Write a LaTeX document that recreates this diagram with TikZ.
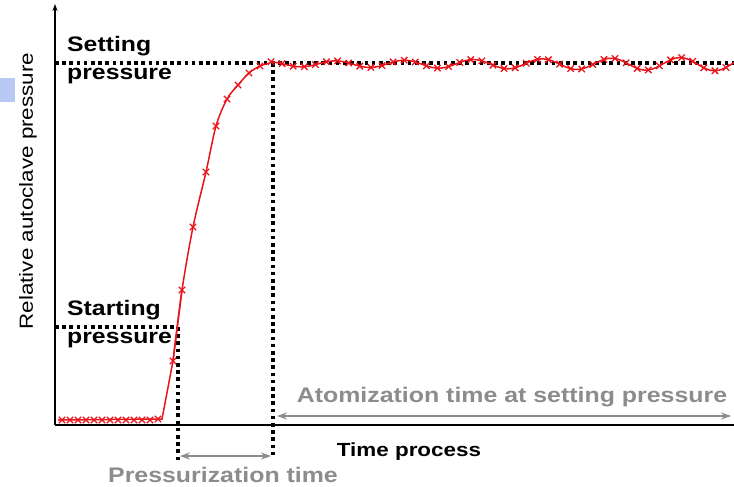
\documentclass[tikz,border=0pt]{standalone}
\usepackage{fontspec}
\setmainfont{Liberation Sans}
\newfontfamily\widefont[FakeStretch=1.18]{Liberation Sans}
\usetikzlibrary{arrows.meta}
\definecolor{tgray}{HTML}{8C8C8C}
\definecolor{curvered}{HTML}{E8141C}
\definecolor{boxblue}{HTML}{B7C9F2}
\tikzset{
  axis/.style={line width=2.2pt, black},
  dotline/.style={line width=3.6pt, black, dash pattern=on 3.6pt off 3.6pt},
  grayarrow/.style={line width=1.8pt, tgray, {Stealth[length=10pt,width=7pt]}-{Stealth[length=10pt,width=7pt]}},
  lbl/.style={font=\widefont\bfseries\fontsize{21}{23}\selectfont, inner sep=0pt, anchor=west},
  graylbl/.style={font=\widefont\bfseries\fontsize{21.1}{23}\selectfont, text=tgray, inner sep=0pt},
  curve/.style={curvered, line width=1.5pt},
  mk/.style={mark=x, mark size=4.5pt, mark options={curvered, line width=1.3pt}}
}
\begin{document}
\begin{tikzpicture}[x=1pt,y=-1pt]
\useasboundingbox (0,0) rectangle (734,487);
% blue box
\fill[boxblue] (0,78) rectangle (15,102);
% coordinates
\coordinate (O) at (55,425);
\coordinate (Ytop) at (55,4);
\coordinate (Xend) at (734,425);
\coordinate (Sl) at (55,63);
\coordinate (Sr) at (734,63);
\coordinate (Sv) at (273,63);
\coordinate (Svb) at (273,455);
\coordinate (Pl) at (55,327);
\coordinate (Pv) at (178,327);
\coordinate (Pvb) at (178,462);
\coordinate (PAl) at (180,456);
\coordinate (PAr) at (271,456);
\coordinate (AAl) at (277,416);
\coordinate (AAr) at (731,416);
% dotted guides
\draw[dotline] (Sl) -- (Sr);
\draw[dotline] (Sv) -- (Svb);
\draw[dotline] (Pl) -- (Pv);
\draw[dotline] (Pv) -- (Pvb);
% curve
\draw[curve] (58,420) -- (162,419) -- (173,361) -- (182,290);
\draw[curve] plot[smooth, tension=0.5] coordinates {(173,361) (182,290) (193,227) (206,172) (216,126) (227,99) (238,85) (249,73) (260,66) (270,63)};
\draw[curve] plot[domain=270:734, samples=120, smooth] (\x, {64 - (2.5+4.5*(\x-270)/464)*sin(5.2174*(\x-317.75))});
\path plot[mk, only marks] coordinates {(62,420) (70,420) (78,420) (86,420) (94,420) (102,420) (110,420) (118,420) (126,420) (134,420) (142,420) (150,420) (158,419) (173,361) (182,290) (193,227) (206,172) (216,126) (227,99) (238,85) (249,73) (260,66)};
\path plot[mk, only marks, domain=271:726, samples=42] (\x, {64 - (2.5+4.5*(\x-270)/464)*sin(5.2174*(\x-317.75))});
% axes
\draw[axis] (O) -- (Xend);
\draw[axis, -{Stealth[length=7pt,width=5pt]}] (O) -- (Ytop);
% arrows
\draw[grayarrow] (PAl) -- (PAr);
\draw[grayarrow] (AAl) -- (AAr);
% labels
\node[lbl] (set1) at (67,46) {Setting};
\node[lbl] (set2) at (67,76) {pressure};
\node[lbl] (st1) at (67,310) {Starting};
\node[lbl] (st2) at (67,340) {pressure};
\node[font=\widefont\bfseries\fontsize{19}{21}\selectfont, inner sep=0pt] (tp) at (409,452) {Time process};
\node[graylbl] (atom) at (512,397) {Atomization time at setting pressure};
\node[graylbl] (pres) at (223,475) {Pressurization time};
\node[font=\widefont\fontsize{19}{21}\selectfont, rotate=90, inner sep=0pt] (ylab) at (28,191) {Relative autoclave pressure};
\end{tikzpicture}
\end{document}
